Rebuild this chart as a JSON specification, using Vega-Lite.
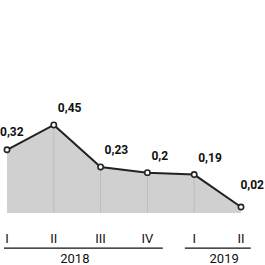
{
  "$schema": "https://vega.github.io/schema/vega-lite/v6.json",
  "width": 265,
  "height": 265,
  "autosize": {"type": "none"},
  "padding": 0,
  "background": "white",
  "config": {"view": {"stroke": null}},
  "datasets": {
    "pts": [
      {"i": 0, "q": "I", "v": 0.32, "lab": "0,32"},
      {"i": 1, "q": "II", "v": 0.45, "lab": "0,45"},
      {"i": 2, "q": "III", "v": 0.23, "lab": "0,23"},
      {"i": 3, "q": "IV", "v": 0.2, "lab": "0,2"},
      {"i": 4, "q": "I", "v": 0.19, "lab": "0,19"},
      {"i": 5, "q": "II", "v": 0.02, "lab": "0,02"}
    ],
    "years": [
      {"year": "2018", "start": -0.064, "end": 3.33, "mid": 1.45},
      {"year": "2019", "start": 3.8, "end": 5.21, "mid": 4.64}
    ]
  },
  "layer": [
    {
      "data": {"name": "pts"},
      "mark": {"type": "area", "color": "#d0d0d0", "opacity": 1},
      "encoding": {
        "x": {"field": "i", "type": "quantitative", "scale": {"domain": [-0.1496, 5.513], "nice": false, "zero": false}, "axis": null},
        "y": {"field": "v", "type": "quantitative", "scale": {"domain": [-0.284, 1.105], "nice": false, "zero": false}, "axis": null},
        "y2": {"datum": -0.012}
      }
    },
    {
      "data": {"name": "pts"},
      "transform": [{"filter": "datum.i > 0 && datum.i < 5"}],
      "mark": {"type": "rule", "color": "#bdbdbd", "strokeWidth": 1},
      "encoding": {
        "x": {"field": "i", "type": "quantitative"},
        "y": {"field": "v", "type": "quantitative"},
        "y2": {"datum": -0.012}
      }
    },
    {
      "data": {"name": "pts"},
      "mark": {"type": "line", "color": "#222222", "strokeWidth": 2},
      "encoding": {
        "x": {"field": "i", "type": "quantitative"},
        "y": {"field": "v", "type": "quantitative"}
      }
    },
    {
      "data": {"name": "pts"},
      "mark": {"type": "point", "shape": "circle", "filled": true, "fill": "white", "stroke": "#222222", "strokeWidth": 1.6, "size": 28, "opacity": 1},
      "encoding": {
        "x": {"field": "i", "type": "quantitative"},
        "y": {"field": "v", "type": "quantitative"}
      }
    },
    {
      "data": {"name": "pts"},
      "transform": [{"filter": "datum.i > 0 && datum.i < 5"}],
      "mark": {"type": "text", "align": "left", "baseline": "middle", "dx": 4, "dy": -17, "font": "Roboto", "fontWeight": "bold", "fontSize": 12, "color": "#111111"},
      "encoding": {
        "x": {"field": "i", "type": "quantitative"},
        "y": {"field": "v", "type": "quantitative"},
        "text": {"field": "lab"}
      }
    },
    {
      "data": {"name": "pts"},
      "transform": [{"filter": "datum.i == 0"}],
      "mark": {"type": "text", "align": "left", "baseline": "middle", "dx": -7, "dy": -18, "font": "Roboto", "fontWeight": "bold", "fontSize": 12, "color": "#111111"},
      "encoding": {
        "x": {"field": "i", "type": "quantitative"},
        "y": {"field": "v", "type": "quantitative"},
        "text": {"field": "lab"}
      }
    },
    {
      "data": {"name": "pts"},
      "transform": [{"filter": "datum.i == 5"}],
      "mark": {"type": "text", "align": "right", "baseline": "middle", "dx": 23, "dy": -22, "font": "Roboto", "fontWeight": "bold", "fontSize": 12, "color": "#111111"},
      "encoding": {
        "x": {"field": "i", "type": "quantitative"},
        "y": {"field": "v", "type": "quantitative"},
        "text": {"field": "lab"}
      }
    },
    {
      "data": {"name": "pts"},
      "mark": {"type": "text", "align": "center", "baseline": "middle", "font": "Roboto", "fontSize": 13, "color": "#111111"},
      "encoding": {
        "x": {"field": "i", "type": "quantitative"},
        "y": {"datum": -0.148},
        "text": {"field": "q"}
      }
    },
    {
      "data": {"name": "years"},
      "mark": {"type": "rule", "color": "#111111", "strokeWidth": 1.3},
      "encoding": {
        "x": {"field": "start", "type": "quantitative"},
        "x2": {"field": "end"},
        "y": {"datum": -0.196}
      }
    },
    {
      "data": {"name": "years"},
      "mark": {"type": "text", "align": "center", "baseline": "middle", "font": "Roboto", "fontSize": 13, "color": "#111111"},
      "encoding": {
        "x": {"field": "mid", "type": "quantitative"},
        "y": {"datum": -0.253},
        "text": {"field": "year"}
      }
    }
  ]
}
